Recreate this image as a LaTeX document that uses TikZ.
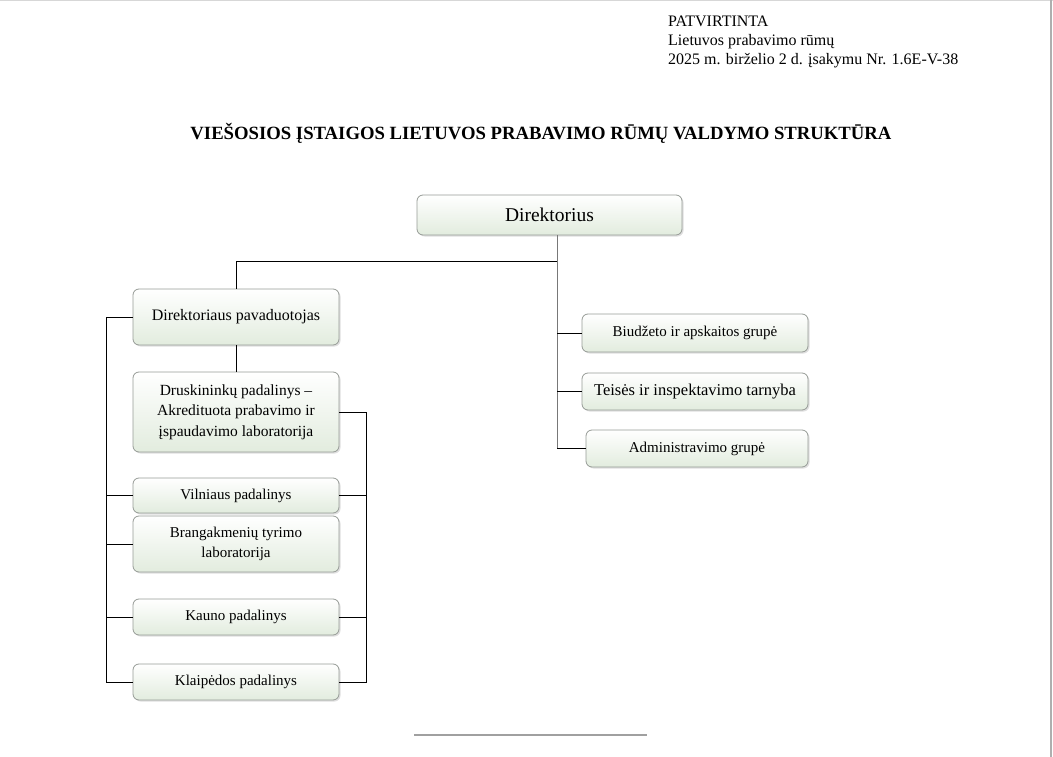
\documentclass[tikz,border=0pt]{standalone}
\usepackage{fontspec}
\setmainfont{Liberation Serif}
\usetikzlibrary{shadows}
\definecolor{boxborder}{RGB}{150,155,150}
\definecolor{boxfill}{RGB}{226,236,222}
\definecolor{trunkgray}{RGB}{120,120,120}
\begin{document}
\begin{tikzpicture}[x=1pt,y=-1pt,
  box/.style={draw=boxborder, line width=0.8pt, rounded corners=6pt,
    top color=white, bottom color=boxfill,
    drop shadow={opacity=0.25, shadow xshift=1.5pt, shadow yshift=-1.5pt},
    align=center, inner sep=0pt, font=\fontsize{15}{20}\selectfont},
  conn/.style={draw=black, line width=1pt},
  hdr/.style={anchor=base west, inner sep=0pt, font=\fontsize{16}{19}\selectfont}]
\useasboundingbox (0,0) rectangle (1053,757);
% page edges
\draw[draw={rgb,255:red,215;green,215;blue,215}, line width=1pt] (0,0.5) -- (1053,0.5);
\draw[draw={rgb,255:red,175;green,175;blue,175}, line width=2pt] (1051,0) -- (1051,757);
% header
\node[hdr] (h1) at (668,27) {PATVIRTINTA};
\node[hdr] (h2) at (668,46) {Lietuvos prabavimo rūmų};
\node[hdr] (h3) at (668,65) {2025 m. birželio 2 d. įsakymu Nr. 1.6E-V-38};
\node[anchor=base, inner sep=0pt, font=\fontsize{18.7}{22}\selectfont\bfseries] (title) at (541,139.5)
  {VIEŠOSIOS ĮSTAIGOS LIETUVOS PRABAVIMO RŪMŲ VALDYMO STRUKTŪRA};
% boxes
\node[box, minimum width=265, minimum height=40, font=\fontsize{19.5}{22}\selectfont] (dir) at (549.5,215) {Direktorius};
\node[box, minimum width=206, minimum height=56, font=\fontsize{16}{20}\selectfont] (pav) at (236,317) {Direktoriaus pavaduotojas};
\node[box, minimum width=206, minimum height=80, font=\fontsize{15.5}{20.5}\selectfont] (dru) at (236,412) {Druskininkų padalinys --\\Akredituota prabavimo ir\\įspaudavimo laboratorija};
\node[box, minimum width=206, minimum height=35] (vil) at (236,495.5) {Vilniaus padalinys};
\node[box, minimum width=206, minimum height=56] (bra) at (236,544) {Brangakmenių tyrimo\\laboratorija};
\node[box, minimum width=206, minimum height=36] (kau) at (236,617) {Kauno padalinys};
\node[box, minimum width=206, minimum height=36] (kla) at (236,682) {Klaipėdos padalinys};
\node[box, minimum width=226, minimum height=38] (biu) at (695,333) {Biudžeto ir apskaitos grupė};
\node[box, minimum width=226, minimum height=37, font=\fontsize{16.5}{19}\selectfont] (tei) at (695,391.5) {Teisės ir inspektavimo tarnyba};
\node[box, minimum width=222, minimum height=37] (adm) at (697,448.5) {Administravimo grupė};
% connectors
\coordinate (trunk) at (557,235);
\coordinate (hy) at (0,261);
\coordinate (lb) at (106,0);
\coordinate (rb) at (366,0);
\draw[draw=trunkgray, line width=1pt] (trunk) -- (trunk |- adm.west);
\draw[conn] (trunk |- hy) -| (pav.north);
\draw[conn] (trunk |- biu.west) -- (biu.west);
\draw[conn] (trunk |- tei.west) -- (tei.west);
\draw[conn] (trunk |- adm.west) -- (adm.west);
\draw[conn] (pav.south) -- (dru.north);
\draw[conn] (pav.west) -| (lb |- kla.west) -- (kla.west);
\draw[conn] (lb |- vil.west) -- (vil.west);
\draw[conn] (lb |- bra.west) -- (bra.west);
\draw[conn] (lb |- kau.west) -- (kau.west);
\draw[conn] (dru.east) -| (rb |- kla.east) -- (kla.east);
\draw[conn] (rb |- vil.east) -- (vil.east);
\draw[conn] (rb |- kau.east) -- (kau.east);
% bottom rule
\coordinate (r1) at (414,735);
\coordinate (r2) at (647,735);
\draw[draw={rgb,255:red,160;green,160;blue,160}, line width=1.5pt] (r1) -- (r2);
\end{tikzpicture}
\end{document}
